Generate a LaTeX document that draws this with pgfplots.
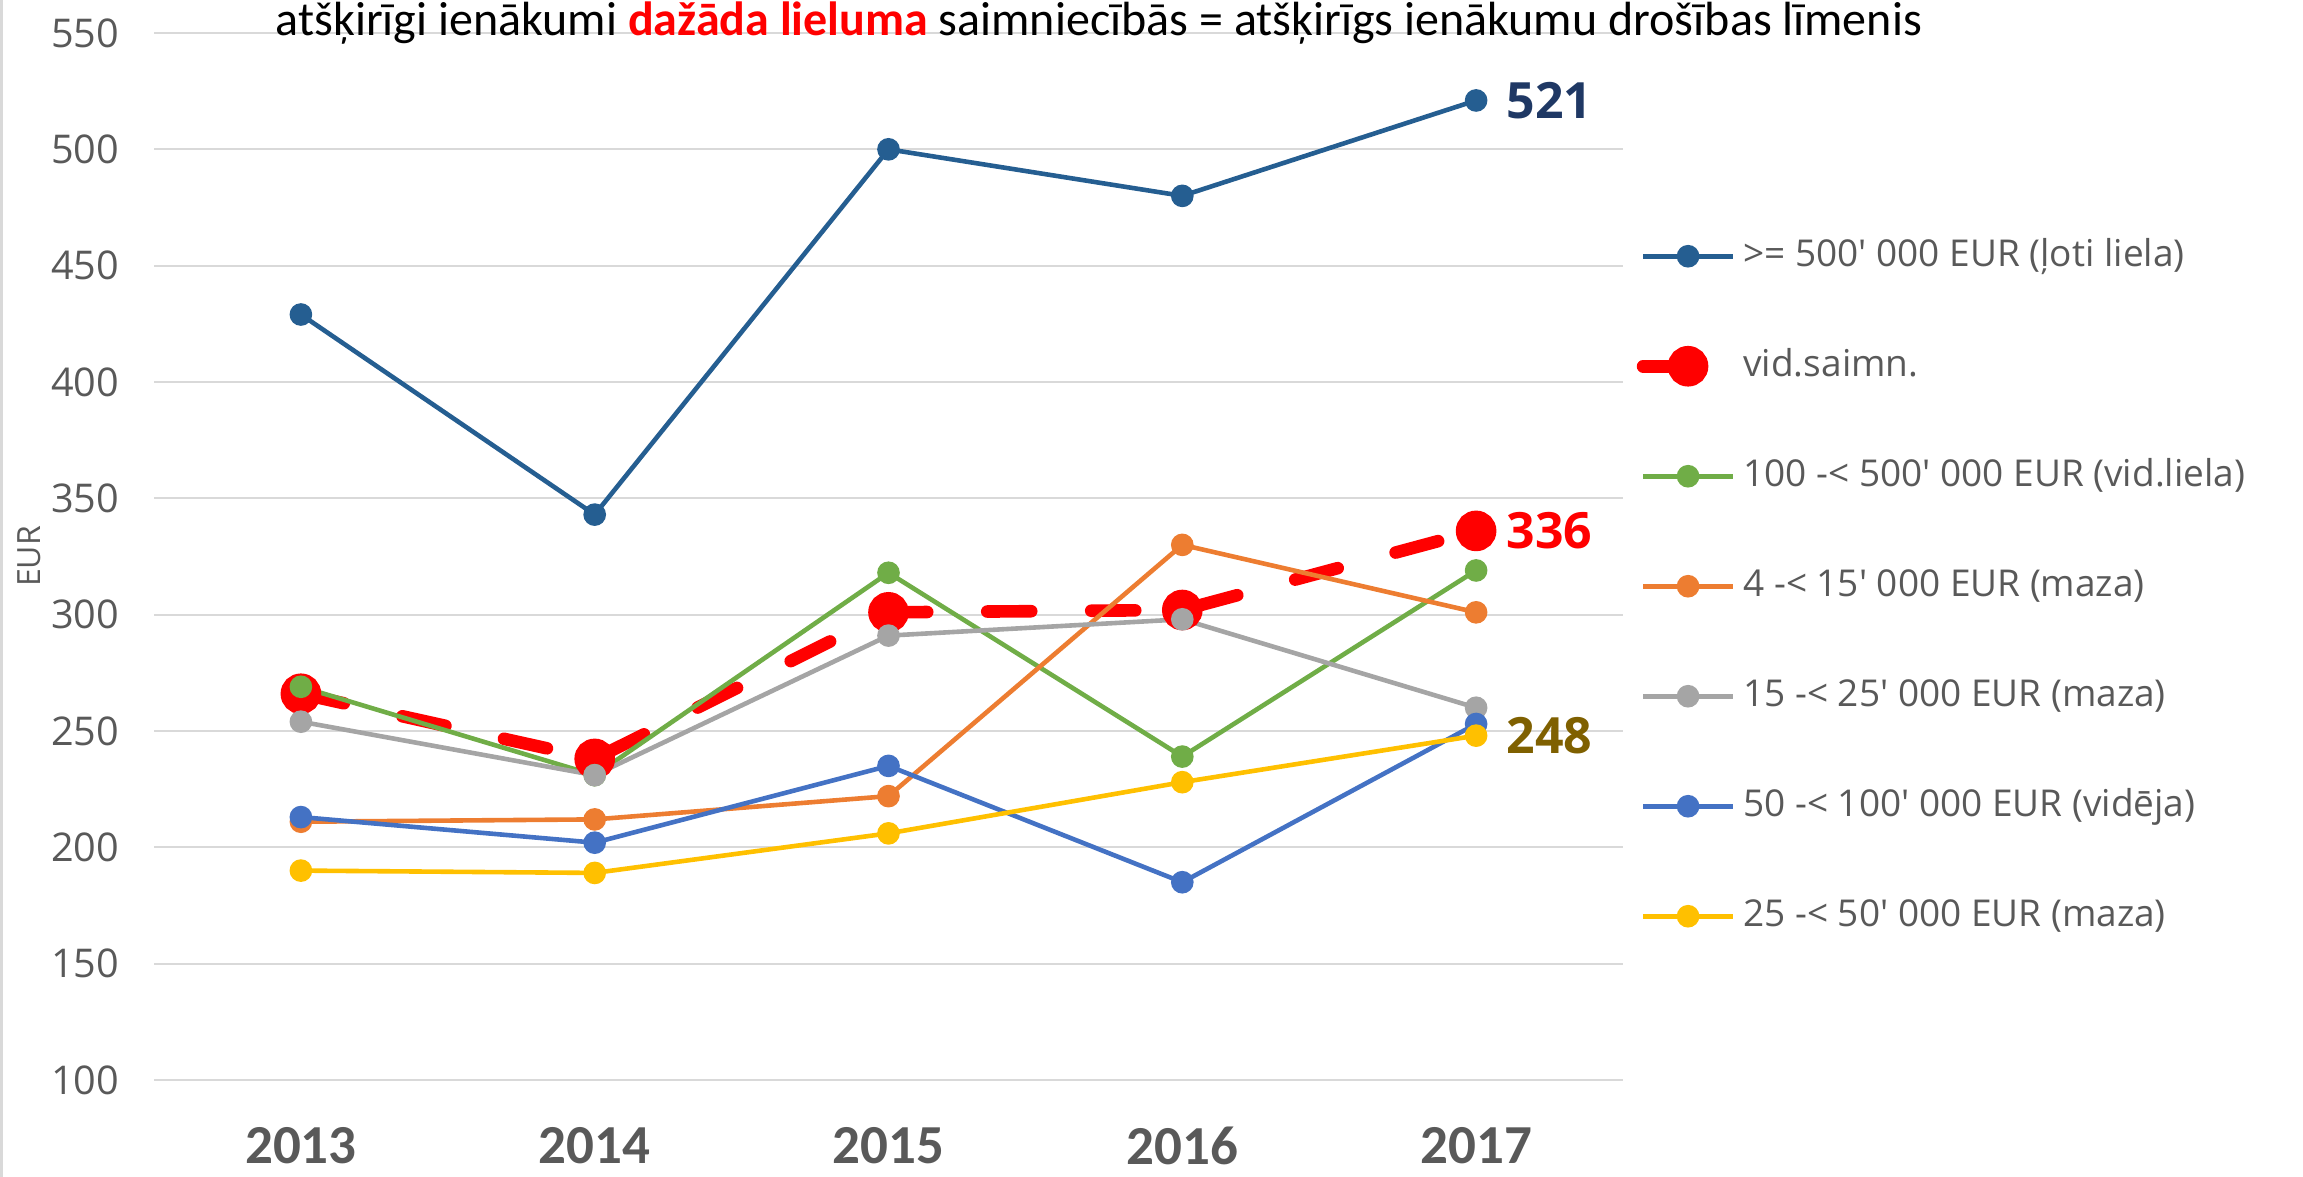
\documentclass[border=0pt]{standalone}
\usepackage{fontspec}
\setmainfont{Carlito}
\newfontfamily\osans{Open Sans}
\usepackage{pgfplots}
\pgfplotsset{compat=1.18}
\definecolor{cDark}{RGB}{37,94,145}
\definecolor{cRed}{RGB}{255,0,0}
\definecolor{cGreen}{RGB}{112,173,71}
\definecolor{cOrange}{RGB}{237,125,49}
\definecolor{cGray}{RGB}{165,165,165}
\definecolor{cBlue}{RGB}{68,114,196}
\definecolor{cYellow}{RGB}{255,192,0}
\definecolor{cNavy}{RGB}{31,56,100}
\definecolor{cOlive}{RGB}{127,96,0}
\definecolor{gridgray}{RGB}{217,217,217}
\definecolor{tickgray}{RGB}{89,89,89}
\pgfplotsset{
  normlegend/.style={legend image code/.code={\draw[##1,mark=none] (0pt,0pt) -- (45pt,0pt);
     \draw[##1, only marks] plot coordinates {(22.5pt,0pt)};}},
  redlegend/.style={legend image code/.code={\draw[##1,mark=none, dash pattern=on 14pt off 40pt] (0pt,0pt) -- (45pt,0pt);
     \draw[##1, only marks] plot coordinates {(22.5pt,0pt)};}},
}
\begin{document}
\begin{tikzpicture}
\useasboundingbox (0,0) rectangle (1151.5pt,588.5pt);
\draw[line width=1.5pt, black!15] (0.75pt,0) -- (0.75pt,588.5pt);
\begin{axis}[
  at={(77pt,48.5pt)}, anchor=south west,
  scale only axis, width=734.5pt, height=523.5pt,
  xmin=-0.5, xmax=4.5, ymin=100, ymax=550,
  xtick={0,1,2,3,4}, xticklabels={2013,2014,2015,2016,2017},
  ytick={100,150,...,550},
  ymajorgrids, grid style={line width=1pt, color=gridgray},
  axis line style={draw=none}, major tick length=0pt,
  tick label style={color=tickgray},
  /pgf/number format/assume math mode=true,
  yticklabel style={font=\osans\fontsize{19.8}{23}\selectfont, xshift=-14pt},
  xticklabel style={font=\bfseries\fontsize{27.5}{32}\selectfont, yshift=-20pt},
  ylabel={EUR},
  ylabel style={at={(axis description cs:-0.085,0.5)}, anchor=center, font=\osans\fontsize{16}{19}\selectfont, color=tickgray},
  clip=false,
  every axis plot/.append style={line width=2.3pt, mark=*, mark size=4.5pt, mark options={solid}},
  normlegend,
  legend cell align=left,
  legend style={at={(1.005,0.812)}, anchor=north west, draw=none, fill=none,
     font=\osans\fontsize{18.5}{22}\selectfont, text=tickgray,
     row sep=33pt, nodes={text height=14pt, text depth=4pt}},
]
\addplot[color=cDark] coordinates {(0,429) (1,343) (2,500) (3,480) (4,521)};
\addlegendentry{>= 500' 000 EUR (ļoti liela)}
\addplot[color=cRed, line width=6.3pt, mark size=7pt, dash pattern=on 22pt off 30pt, line cap=round, redlegend]
  coordinates {(0,266) (1,238) (2,301) (3,302) (4,336)};
\addlegendentry{vid.saimn.}
\addplot[color=cGreen] coordinates {(0,269) (1,231) (2,318) (3,239) (4,319)};
\addlegendentry{100 -< 500' 000 EUR (vid.liela)}
\addplot[color=cOrange] coordinates {(0,211) (1,212) (2,222) (3,330) (4,301)};
\addlegendentry{4 -< 15' 000 EUR (maza)}
\addplot[color=cGray] coordinates {(0,254) (1,231) (2,291) (3,298) (4,260)};
\addlegendentry{15 -< 25' 000 EUR (maza)}
\addplot[color=cBlue] coordinates {(0,213) (1,202) (2,235) (3,185) (4,253)};
\addlegendentry{50 -< 100' 000 EUR (vidēja)}
\addplot[color=cYellow] coordinates {(0,190) (1,189) (2,206) (3,228) (4,248)};
\addlegendentry{25 -< 50' 000 EUR (maza)}
\node[anchor=west, inner sep=0pt, xshift=15pt, font=\osans\bfseries\fontsize{25}{30}\selectfont, text=cNavy] at (axis cs:4,521) {521};
\node[anchor=west, inner sep=0pt, xshift=15pt, font=\osans\bfseries\fontsize{25}{30}\selectfont, text=cRed] at (axis cs:4,336) {336};
\node[anchor=west, inner sep=0pt, xshift=15pt, font=\osans\bfseries\fontsize{25}{30}\selectfont, text=cOlive] at (axis cs:4,248) {248};
\end{axis}
\node[anchor=base, font=\fontsize{24}{28}\selectfont] at (549.5pt,570.5pt)
  {atšķirīgi ienākumi \textcolor{cRed}{\bfseries dažāda lieluma} saimniecībās = atšķirīgs ienākumu drošības līmenis};
\end{tikzpicture}
\end{document}
